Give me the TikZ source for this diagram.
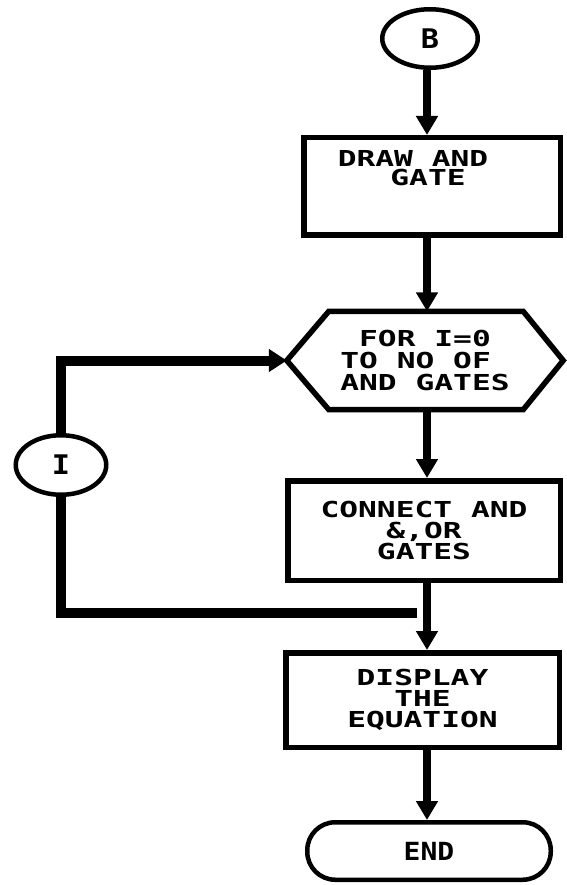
\documentclass[tikz,border=0pt]{standalone}
\usepackage{fontspec}
\newfontfamily\pixfont[FakeStretch=1.42]{DejaVu Sans Mono}
\newfontfamily\pixbig[FakeStretch=1.12]{DejaVu Sans Mono}
\usetikzlibrary{arrows.meta,shapes.geometric}
\begin{document}
\begin{tikzpicture}[x=1pt,y=-1pt,
  boxline/.style={draw=black, line width=5.5pt, line join=miter},
  pbox/.style={boxline, rectangle, inner sep=0pt},
  oval/.style={draw=black, line width=4.5pt, ellipse, inner sep=0pt},
  txt/.style={font=\pixfont\bfseries\fontsize{22}{21}\selectfont, inner sep=0pt},
  bigtxt/.style={font=\pixbig\bfseries\fontsize{27}{27}\selectfont},
  flow/.style={line width=8pt, -{Triangle[width=21pt,length=19pt]}},
  loopline/.style={line width=10pt, line join=miter}
]
\useasboundingbox[fill=white] (0,0) rectangle (566,885);
\coordinate (col) at (427,0);

% shapes
\node[oval, bigtxt, minimum width=95.5pt, minimum height=58.5pt] (B) at (430,38.5) {B};
\node[pbox, minimum width=256.5pt, minimum height=97.5pt] (box1) at (432,186.5) {};
\node[txt, align=center, font=\pixfont\bfseries\fontsize{22}{18.5}\selectfont] (t1) at (428,168) {DRAW AND\makebox[30pt]{}\\GATE};
\node[txt, align=left, minimum width=276pt, minimum height=98pt, font=\pixfont\bfseries\fontsize{22}{22}\selectfont] (hex) at (425,360.5) {~FOR I=0\\TO NO OF\\AND GATES};
\draw[boxline] (hex.west) -- ([xshift=42pt]hex.north west) -- ([xshift=-40pt]hex.north east)
  -- (hex.east) -- ([xshift=-40pt]hex.south east) -- ([xshift=42pt]hex.south west) -- cycle;
\node[pbox, txt, align=center, minimum width=272.5pt, minimum height=99.5pt] (box2) at (424,530.5) {CONNECT AND\\\&,OR\\GATES};
\node[pbox, txt, align=center, minimum width=273.5pt, minimum height=94.5pt] (disp) at (422.5,700) {DISPLAY\\THE\\EQUATION};
\node[draw=black, line width=4.5pt, rectangle, rounded corners=28pt, inner sep=0pt, minimum width=243.5pt, minimum height=57.5pt, font=\pixbig\bfseries\fontsize{25}{25}\selectfont] (END) at (429,851) {END};
\node[oval, bigtxt, minimum width=90.5pt, minimum height=59.5pt] (I) at (61,465) {I};

% main flow
\draw[flow] (B.south -| col) -- (box1.north -| col);
\draw[flow] (box1.south -| col) -- (hex.north -| col);
\draw[flow] (hex.south -| col) -- (box2.north -| col);
\draw[flow] (box2.south -| col) -- (disp.north -| col);
\draw[flow] (disp.south -| col) -- (END.north -| col);

% loop
\draw[loopline, -{Triangle[width=22pt,length=18pt]}] (I.north) |- (hex.west);
\coordinate (lend) at (417,613);
\draw[loopline] (I.south) |- (lend);
\end{tikzpicture}
\end{document}
